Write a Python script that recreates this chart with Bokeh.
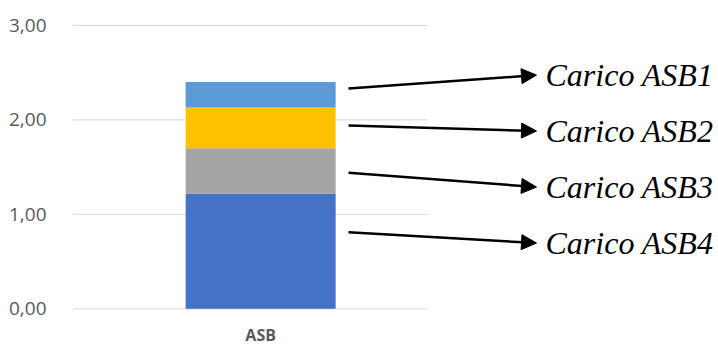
from bokeh.plotting import figure
from bokeh.models import ColumnDataSource, Range1d, FixedTicker, Arrow, NormalHead
from bokeh.core.properties import value
from bokeh.embed import file_html
from bokeh.resources import INLINE

# ---- data ----
categories = ["ASB"]
series = ["Carico ASB4", "Carico ASB3", "Carico ASB2", "Carico ASB1"]
asb4 = [1.22]
asb3 = [0.48]
asb2 = [0.43]
asb1 = [0.27]
colors = ["#4472C4", "#A5A5A5", "#FFC000", "#5B9BD5"]
y_ticks = [0, 1, 2, 3]
y_tick_labels = ["0,00", "1,00", "2,00", "3,00"]

# annotation labels (top to bottom) and arrow anchors in data units
labels = ["Carico ASB1", "Carico ASB2", "Carico ASB3", "Carico ASB4"]
arrow_y_start = [2.33, 1.94, 1.44, 0.81]
label_y = [2.473, 1.881, 1.288, 0.696]

W, H = 718, 345
left_px = 72
frame_w = W - left_px
unit_px = 355.0  # px of the category band
bar_center = 0.53

src = ColumnDataSource(dict(x=[bar_center], cat=categories,
                            **{series[0]: asb4, series[1]: asb3,
                               series[2]: asb2, series[3]: asb1}))

px_per_unit_y = 94.5
y0_px = 308.3
y_top = y0_px / px_per_unit_y
y_bot = -(H - y0_px) / px_per_unit_y

p = figure(width=W, height=H, output_backend="svg", toolbar_location=None,
           x_range=Range1d(0, frame_w / unit_px), y_range=Range1d(y_bot, y_top),
           min_border_left=left_px, min_border_right=0, min_border_top=0,
           min_border_bottom=0)
p.outline_line_color = None
p.xgrid.visible = False
p.ygrid.visible = False
p.xaxis.visible = False
p.background_fill_color = "white"
p.border_fill_color = "white"

# gridlines across the category band only
p.segment(x0=[0] * len(y_ticks), x1=[1] * len(y_ticks), y0=y_ticks, y1=y_ticks,
          line_color="#dedede", line_width=1.3)

p.vbar_stack(series, x="x", width=150 / unit_px, color=colors, line_color=None, source=src)

# y axis
p.yaxis.ticker = FixedTicker(ticks=y_ticks)
p.yaxis.major_label_overrides = {t: l for t, l in zip(y_ticks, y_tick_labels)}
p.yaxis.axis_line_color = None
p.yaxis.major_tick_line_color = None
p.yaxis.minor_tick_line_color = None
p.yaxis.major_label_text_font = "Open Sans"
p.yaxis.major_label_text_font_size = "19px"
p.yaxis.major_label_text_color = "#595959"
p.yaxis.major_label_standoff = 20

# category label below the bar
p.text(x=[bar_center], y=[-(334 - y0_px) / px_per_unit_y], text=categories,
       text_font=value("Open Sans"), text_font_style="bold", text_font_size="16px",
       text_color="#595959", text_align="center", text_baseline="middle",
       text_line_height=1.0)

# arrows and labels
ax0 = (348 - left_px) / unit_px
ax1 = (536 - left_px) / unit_px
lx = (545 - left_px) / unit_px
for ys, ye in zip(arrow_y_start, label_y):
    p.add_layout(Arrow(x_start=ax0, y_start=ys, x_end=ax1, y_end=ye,
                       line_color="black", line_width=2.5,
                       end=NormalHead(size=15, fill_color="black", line_color="black")))

p.text(x=[lx] * len(labels), y=label_y, text=labels,
       text_font=value("Liberation Serif"), text_font_style="italic",
       text_font_size="32px", text_color="black",
       text_baseline="middle", text_align="left")

open("out.html", "w").write(file_html(p, INLINE))
